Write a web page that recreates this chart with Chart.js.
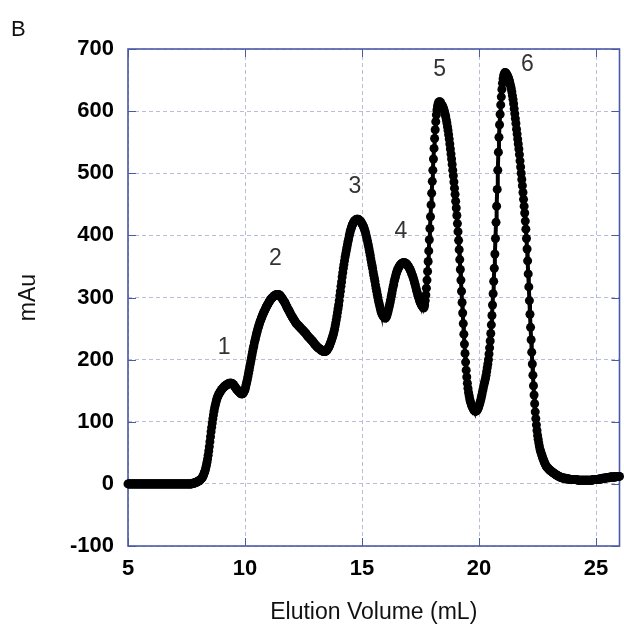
<!DOCTYPE html>
<html>
<head>
<meta charset="utf-8">
<title>Elution profile</title>
<script src="https://cdn.jsdelivr.net/npm/chart.js@4.4.1/dist/chart.umd.min.js"></script>
<style>
  body { margin: 0; background: #fff; }
  #wrap { width: 624px; height: 626px; position: relative; }
</style>
</head>
<body>
<div id="wrap"><canvas id="elutionChart"></canvas></div>
<script>
// UV trace, one reading every 0.025 mL starting at 5 mL
const volStart = 5;
const volStep = 0.025;
const absorbance = [
  0,0,0,0,0,0,0,0,0,0,0,0,0,0,0,0,0,0,0,0,
  0,0,0,0,0,0,0,0,0,0,0,0,0,0,0,0,0,0,0,0,
  0,0,0,0,0,0,0,0,0,0,0,0,0,0,0,0,0,0,0,0,
  0,0,0,0,0,0,0,0,0,0,0,0,0,0,0,0,0,0,0,0,
  0,0,0,0,0,0,0,0,0,0,0,0,0,0,0,0,0,0,0,0,
  0,0,0,0,0,0,0,0,0,0,1,1,1,1,2,2,2,3,3,4,
  4,5,5,6,7,8,9,10,12,14,17,19,22,26,30,35,40,46,53,60,
  68,76,84,91,98,105,111,117,122,126,130,134,137,140,142,144,146,147,149,150,
  152,153,154,155,156,157,158,158,159,160,160,161,161,162,162,162,162,162,161,161,
  160,159,157,156,155,153,152,151,150,149,148,147,146,145,145,145,145,146,148,150,
  152,156,160,164,168,173,178,183,188,193,198,203,208,213,218,222,227,231,235,239,
  243,246,250,253,256,259,262,264,267,269,272,274,276,278,280,282,284,286,288,289,
  291,293,294,296,297,298,299,300,301,302,303,303,304,304,305,305,305,305,304,304,
  303,302,300,299,298,296,295,293,292,290,288,286,284,282,280,279,277,275,273,272,
  270,268,267,265,264,262,261,259,258,257,256,255,254,253,252,251,250,249,248,247,
  246,245,244,243,242,241,239,238,237,236,235,234,233,232,231,230,229,228,226,225,
  224,223,222,221,220,219,218,218,217,216,215,215,214,214,213,213,213,213,214,214,
  215,217,218,220,222,224,227,229,232,235,238,241,245,249,254,259,264,270,276,282,
  288,295,303,310,318,325,333,340,347,353,359,365,370,375,380,385,390,394,399,403,
  407,410,413,416,418,420,422,423,424,425,425,426,426,426,425,425,424,423,422,420,
  419,417,415,413,410,407,404,400,396,392,387,383,378,373,368,362,357,352,347,341,
  336,331,326,320,315,310,305,300,295,291,287,283,279,276,274,272,270,269,268,267,
  267,268,270,273,276,280,284,288,292,297,302,307,312,317,321,326,330,333,337,340,
  343,345,347,349,351,352,353,354,355,355,356,356,356,356,355,355,354,353,352,350,
  349,347,345,343,341,338,336,333,330,327,323,320,316,312,309,305,302,299,296,293,
  291,289,287,286,285,283,284,288,295,304,315,328,342,358,375,393,411,430,449,468,
  487,505,523,540,556,570,583,594,602,608,612,614,615,615,614,612,610,609,607,605,
  602,599,595,591,586,581,575,569,562,555,547,539,531,523,514,505,496,486,476,466,
  455,444,432,419,406,392,377,361,345,328,310,292,275,258,241,225,210,196,183,172,
  162,154,147,142,137,133,130,127,125,123,121,119,118,117,117,117,118,119,121,123,
  126,129,132,136,140,144,149,153,158,162,166,170,175,181,187,193,200,209,219,230,
  242,256,271,288,306,326,347,370,395,421,447,474,505,534,558,578,595,610,623,635,
  645,652,657,660,662,662,661,660,658,656,654,651,648,644,640,636,631,625,619,612,
  604,596,588,580,571,563,555,547,539,530,520,510,500,490,480,469,458,447,436,423,
  410,395,378,359,338,317,295,273,252,232,212,193,175,158,143,129,116,105,95,86,
  78,72,66,61,56,53,50,47,44,41,39,36,34,32,30,28,27,26,25,24,
  23,22,21,21,20,19,18,18,17,16,16,15,14,14,13,13,12,12,11,11,
  10,10,10,10,9,9,9,9,9,8,8,8,8,8,8,7,7,7,7,7,
  7,7,7,7,7,7,7,7,6,6,6,6,6,6,6,6,6,6,6,6,
  6,6,6,6,6,6,6,6,6,6,6,6,6,6,6,7,7,7,7,7,
  7,7,7,7,7,8,8,8,8,8,8,9,9,9,9,9,9,10,10,10,
  10,10,10,10,11,11,11,11,11,11,11,11,11,11,12,12,12,12,12,12,
  12
];

// peak numbers and where they sit (mL, mAu)
const peakNames = ['1', '2', '3', '4', '5', '6'];
const peakNameX = [9.11, 11.30, 14.69, 16.66, 18.32, 22.06];
const peakNameY = [219, 362, 478, 406, 666, 675];

const panelLetter = 'B';
const xTitle = 'Elution Volume (mL)';
const yTitle = 'mAu';

const fontFamily = '"Liberation Sans", Arial, Helvetica, sans-serif';
const frameColor = '#4b5aa6';
const gridColor = '#b9bdd9';

const points = absorbance.map((v, i) => ({ x: +(volStart + i * volStep).toFixed(3), y: v }));

// box round the plot area plus short inward tick marks on every side
const framePlugin = {
  id: 'frame',
  beforeDatasetsDraw(chart) {
    const { ctx, chartArea: a, scales: { x, y } } = chart;
    ctx.save();
    ctx.strokeStyle = frameColor;
    ctx.lineWidth = 1;
    ctx.beginPath();
    y.ticks.forEach(t => {
      const py = Math.round(y.getPixelForValue(t.value)) + 0.5;
      ctx.moveTo(a.left, py); ctx.lineTo(a.left + 8, py);
      ctx.moveTo(a.right, py); ctx.lineTo(a.right - 8, py);
    });
    x.ticks.forEach(t => {
      const px = Math.round(x.getPixelForValue(t.value)) + 0.5;
      ctx.moveTo(px, a.bottom); ctx.lineTo(px, a.bottom - 8);
      ctx.moveTo(px, a.top); ctx.lineTo(px, a.top + 8);
    });
    ctx.stroke();
    ctx.lineWidth = 1.6;
    ctx.strokeRect(a.left, a.top, a.right - a.left, a.bottom - a.top);
    ctx.restore();
  }
};

const labelPlugin = {
  id: 'peakLabels',
  afterDatasetsDraw(chart) {
    const { ctx, scales: { x, y } } = chart;
    ctx.save();
    ctx.font = '23px ' + fontFamily;
    ctx.fillStyle = '#333';
    ctx.textAlign = 'center';
    ctx.textBaseline = 'middle';
    peakNames.forEach((name, i) => {
      ctx.fillText(name, x.getPixelForValue(peakNameX[i]), y.getPixelForValue(peakNameY[i]));
    });
    ctx.fillStyle = '#111';
    ctx.textAlign = 'left';
    ctx.font = '22px ' + fontFamily;
    ctx.fillText(panelLetter, 11, 30);
    ctx.restore();
  }
};

const ctx = document.getElementById('elutionChart').getContext('2d');
const elutionChart = new Chart(ctx, {
  type: 'line',
  data: {
    datasets: [{
      label: 'A280',
      data: points,
      borderColor: '#000',
      backgroundColor: '#000',
      borderWidth: 4,
      pointRadius: 4.5,
      pointBorderWidth: 0,
      pointBackgroundColor: '#000',
      tension: 0,
      clip: false
    }]
  },
  options: {
    responsive: true,
    maintainAspectRatio: false,
    animation: false,
    layout: { padding: { top: 49, right: 2, bottom: 0, left: 0 } },
    plugins: {
      legend: { display: false },
      tooltip: { enabled: false }
    },
    scales: {
      x: {
        type: 'linear',
        min: 5,
        max: 26,
        afterFit: scale => { scale.height = 80; },
        ticks: {
          stepSize: 5,
          includeBounds: false,
          maxRotation: 0,
          padding: 10,
          color: '#000',
          font: { family: fontFamily, size: 22, weight: 'bold' }
        },
        grid: { color: gridColor, lineWidth: 1, drawTicks: false },
        border: { display: false, dash: [4, 3] },
        title: {
          display: true,
          text: xTitle,
          color: '#111',
          font: { family: fontFamily, size: 23 },
          padding: { top: 0, bottom: 0 }
        }
      },
      y: {
        min: -100,
        max: 700,
        afterFit: scale => { scale.width = 128; },
        ticks: {
          stepSize: 100,
          padding: 14,
          color: '#000',
          font: { family: fontFamily, size: 22, weight: 'bold' }
        },
        grid: { color: gridColor, lineWidth: 1, drawTicks: false },
        border: { display: false, dash: [4, 3] },
        title: {
          display: true,
          text: yTitle,
          color: '#111',
          font: { family: fontFamily, size: 23 },
          padding: { top: 15, bottom: 0 }
        }
      }
    }
  },
  plugins: [framePlugin, labelPlugin]
});
</script>
</body>
</html>
